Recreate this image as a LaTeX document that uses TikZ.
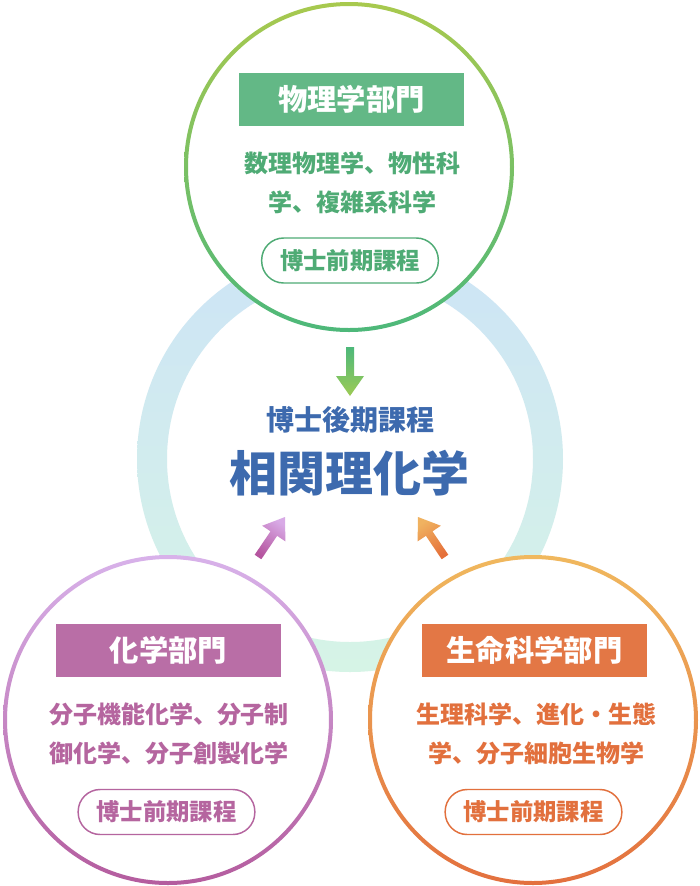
\documentclass[tikz,border=0pt]{standalone}
\usepackage{fontspec}
\newfontfamily\cjk{Noto Sans CJK JP}
\usetikzlibrary{calc}
\definecolor{ringtop}{HTML}{CDE4F6}
\definecolor{ringbot}{HTML}{D6F4E6}
\definecolor{gtop}{HTML}{A8C94E}
\definecolor{gbot}{HTML}{4DB87A}
\definecolor{ghdr}{HTML}{63B886}
\definecolor{gtxt}{HTML}{4FAB75}
\definecolor{ptop}{HTML}{D8B2EA}
\definecolor{pbot}{HTML}{B45C9E}
\definecolor{phdr}{HTML}{B96EA6}
\definecolor{ptxt}{HTML}{B5659F}
\definecolor{otop}{HTML}{F0B85E}
\definecolor{obot}{HTML}{E3703E}
\definecolor{ohdr}{HTML}{E37745}
\definecolor{otxt}{HTML}{E2703D}
\definecolor{bluetxt}{HTML}{3D6AAE}
\definecolor{gaB}{HTML}{4DB87A}
\definecolor{gaT}{HTML}{9DCB55}
\definecolor{paB}{HTML}{B5559F}
\definecolor{paT}{HTML}{D8AAE6}
\definecolor{oaB}{HTML}{E5703A}
\definecolor{oaT}{HTML}{F0B260}
\tikzset{
  hdr/.style={fill=#1, text=white, minimum width=168.75pt, minimum height=39.75pt, inner sep=0pt, font=\cjk\bfseries\fontsize{22}{26}\selectfont},
  desc/.style={text=#1, align=center, inner sep=0pt, font=\cjk\bfseries\fontsize{18}{29.25}\selectfont},
  pill/.style={draw=#1, line width=1.1pt, text=#1, rounded corners=16.5pt, minimum width=132.5pt, minimum height=33.75pt, inner sep=0pt, font=\cjk\bfseries\fontsize{17.5}{20}\selectfont},
}
\newcommand{\gradarrow}[3]{%
  \coordinate (hh) at ($(#2)!15pt!(#1)$);
  \shade[#3] ($(#1)!3pt!90:(#2)$) -- ($(hh)!3pt!90:(#2)$) -- ($(hh)!10.5pt!90:(#2)$) -- (#2) -- ($(hh)!10.5pt!-90:(#2)$) -- ($(hh)!3pt!-90:(#2)$) -- ($(#1)!3pt!-90:(#2)$) -- cycle;
}
\begin{document}
\begin{tikzpicture}[x=0.75pt,y=-0.75pt]
\fill[white] (0,0) rectangle (700,886);
\useasboundingbox (0,0) rectangle (700,886);
% central ring
\coordinate (ctr) at (350,459);
\shade[top color=ringtop, bottom color=ringbot, even odd rule] (ctr) circle[radius=213] (ctr) circle[radius=183];
% circles
\coordinate (gc) at (349,167);
\coordinate (pc) at (168,720);
\coordinate (oc) at (533,720);
\fill[white] (gc) circle[radius=163];
\shade[top color=gtop, bottom color=gbot, even odd rule] (gc) circle[radius=165] (gc) circle[radius=161];
\fill[white] (pc) circle[radius=163];
\shade[top color=ptop, bottom color=pbot, even odd rule] (pc) circle[radius=165] (pc) circle[radius=161];
\fill[white] (oc) circle[radius=163];
\shade[top color=otop, bottom color=obot, even odd rule] (oc) circle[radius=165] (oc) circle[radius=161];
% physics
\node[hdr=ghdr] (ghead) at (351.5,99.5) {物理学部門};
\node[desc=gtxt] (gdesc) at (352,182.5) {数理物理学、物性科\\学、複雑系科学};
\node[pill=gtxt] (gpill) at (350,260.5) {博士前期課程};
% chemistry
\node[hdr=phdr] (phead) at (168.5,650.5) {化学部門};
\node[desc=ptxt] (pdesc) at (169,734) {分子機能化学、分子制\\御化学、分子創製化学};
\node[pill=ptxt] (ppill) at (166.5,812) {博士前期課程};
% life science
\node[hdr=ohdr] (ohead) at (534.5,650.5) {生命科学部門};
\node[desc=otxt] (odesc) at (536,734) {生理科学、進化・生態\\学、分子細胞生物学};
\node[pill=otxt] (opill) at (533.5,812) {博士前期課程};
% centre
\node[text=bluetxt, inner sep=0pt, font=\cjk\bfseries\fontsize{21}{24}\selectfont] (phd) at (350,420) {博士後期課程};
\node[text=bluetxt, inner sep=0pt, font=\cjk\bfseries\fontsize{36}{40}\selectfont] (title) at (349,473) {相関理化学};
% arrows
\coordinate (gB) at (350,347); \coordinate (gT) at (350,396);
\coordinate (pB) at (258,557); \coordinate (pT) at (285,517);
\coordinate (oB) at (445,557); \coordinate (oT) at (418,517);
\gradarrow{gB}{gT}{top color=gaB, bottom color=gaT}
\gradarrow{pB}{pT}{top color=paT, bottom color=paB, shading angle=-34}
\gradarrow{oB}{oT}{top color=oaT, bottom color=oaB, shading angle=34}
\end{tikzpicture}
\end{document}
